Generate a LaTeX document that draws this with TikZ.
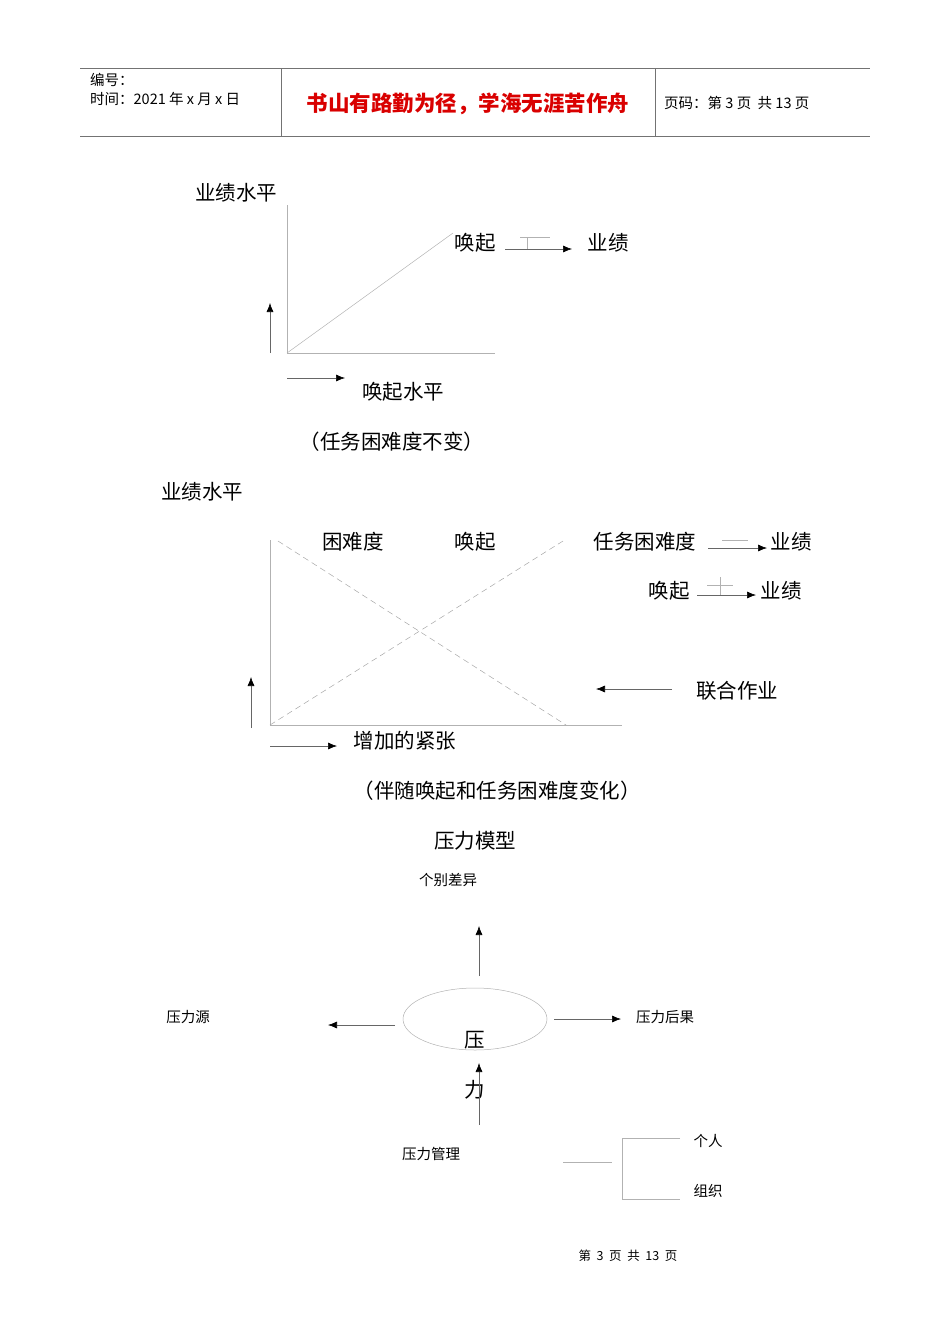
\documentclass[tikz,border=0pt]{standalone}
\usepackage{fontspec}
\setmainfont{Noto Sans CJK SC}
\usetikzlibrary{arrows.meta}
\begin{document}
\begin{tikzpicture}[x=1pt,y=-1pt,
 big/.style={font=\fontsize{20.5}{22}\selectfont,inner sep=0pt},
 sml/.style={font=\fontsize{14.5}{16}\selectfont,inner sep=0pt},
 hd/.style={font=\fontsize{14.5}{16}\selectfont,inner sep=0pt,anchor=west},
 ln/.style={draw=black!55,line width=0.6pt},
 lt/.style={draw=black!30,line width=0.5pt},
 ar/.style={draw=black!60,line width=0.6pt,-{Latex[length=9pt,width=7pt,black]}},
 dsh/.style={draw=black!35,dash pattern=on 6pt off 4pt,line width=0.5pt}]
\useasboundingbox (0,0) rectangle (950,1344);
% header
\draw[ln] (80,68) -- (870,68) (80,136) -- (870,136) (281,68) -- (281,136) (655,68) -- (655,136);
\node[hd] (h1) at (90,80) {编号：};
\node[hd] (h2) at (90,99) {时间：2021 年 x 月 x 日};
\node[font=\fontsize{21.5}{23}\selectfont\bfseries,text=red!85!black,inner sep=0pt] (h3) at (468,104) {书山有路勤为径，学海无涯苦作舟};
\node[hd] (h4) at (664,103) {页码：第 3 页\ \ 共 13 页};
% chart 1
\node[big] (y1) at (236,193) {业绩水平};
\coordinate (o1) at (287,353);
\draw[lt] (287,205) -- (o1) -- (495,353);
\draw[lt] (o1) -- (453,233);
\node[big] (c1a) at (475,243) {唤起};
\node[big] (c1b) at (608,243) {业绩};
\coordinate (c1s) at (505,249);
\draw[ar] (c1s) -- (572,249);
\draw[lt] (520,237) -- (550,237) (527,237)--(527,249);
\coordinate (u1) at (270,353);
\draw[ar] (u1) -- (270,303);
\coordinate (r1) at (287,378);
\draw[ar] (r1) -- (345,378);
\node[big] (x1) at (403,392) {唤起水平};
\node[big] (n1) at (392,442) {（任务困难度不变）};
% chart 2
\node[big] (y2) at (202,492) {业绩水平};
\coordinate (o2) at (270,725);
\draw[lt] (270,540) -- (o2) -- (622,725);
\draw[dsh] (278,541) -- (566,725);
\draw[dsh] (270,725) -- (563,541);
\node[big] (l1) at (353,542) {困难度};
\node[big] (l2) at (475,542) {唤起};
\node[big] (l3) at (645,542) {任务困难度};
\node[big] (l4) at (791,542) {业绩};
\draw[ar] (708,548) -- (767,548);
\draw[lt] (722,540) -- (748,540);
\node[big] (l5) at (669,591) {唤起};
\node[big] (l6) at (781,591) {业绩};
\draw[ar] (697,595) -- (756,595);
\draw[lt] (707,585) -- (733,585) (720,577) -- (720,595);
\coordinate (jz) at (672,689);
\draw[ar] (jz) -- (596,689);
\node[big] (l7) at (737,691) {联合作业};
\coordinate (u2) at (251,728);
\draw[ar] (u2) -- (251,677);
\coordinate (r2) at (270,746);
\draw[ar] (r2) -- (337,746);
\node[big] (x2) at (405,741) {增加的紧张};
\node[big] (n2) at (497,791) {（伴随唤起和任务困难度变化）};
\node[big] (t3) at (475,841) {压力模型};
% pressure model
\node[sml] (p1) at (448,880) {个别差异};
\draw[lt] (475,1019) ellipse (72 and 31);
\node[big] (p0a) at (475,1040) {压};
\node[big] (p0b) at (475,1090) {力};
\draw[ar] (479,976) -- (479,926);
\node[sml] (p2) at (188,1017) {压力源};
\draw[ar] (395,1025) -- (328,1025);
\node[sml] (p3) at (665,1017) {压力后果};
\draw[ar] (554,1019) -- (621,1019);
\draw[ar] (479,1125) -- (479,1063);
\node[sml] (p4) at (431,1154) {压力管理};
\draw[lt] (563,1162) -- (612,1162);
\draw[lt] (680,1138) -- (622,1138) -- (622,1199) -- (680,1199);
\node[sml] (p5) at (708,1141) {个人};
\node[sml] (p6) at (708,1191) {组织};
\node[font=\fontsize{12.5}{14}\selectfont,inner sep=0pt] (ft) at (628,1256) {第\ \ 3\ \ 页\ \ 共\ \ 13\ \ 页};
\end{tikzpicture}
\end{document}
